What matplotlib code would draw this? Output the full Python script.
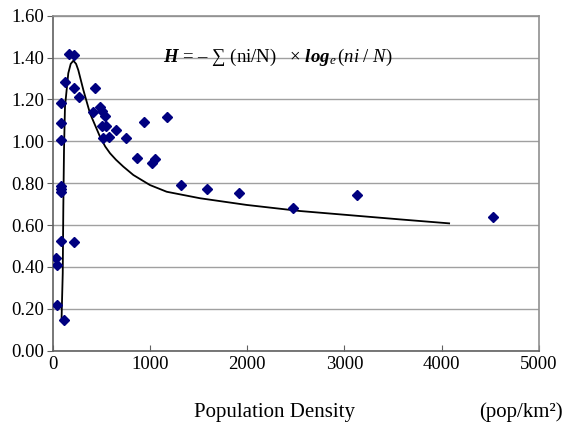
import matplotlib
matplotlib.use("Agg")
import matplotlib.pyplot as plt

plt.rcParams['font.family'] = ['Liberation Serif', 'DejaVu Serif']
plt.rcParams['mathtext.fontset'] = 'custom'
plt.rcParams['mathtext.rm'] = 'Liberation Serif'
plt.rcParams['mathtext.it'] = 'Liberation Serif:italic'
plt.rcParams['mathtext.bf'] = 'Liberation Serif:bold'
plt.rcParams['mathtext.bfit'] = 'Liberation Serif:bold:italic'

# scatter data (population density, diversity index H)
density = [171, 222, 130, 222, 274, 438, 85, 85, 85, 418, 486, 503, 538, 503, 545,
           520, 579, 651, 753, 938, 1172, 870, 1021, 1055, 1322, 1589, 1915, 85, 85,
           85, 85, 222, 34, 47, 47, 119, 2473, 3124, 4522]
diversity = [1.417, 1.411, 1.285, 1.253, 1.213, 1.253, 1.184, 1.089, 1.006, 1.141,
             1.162, 1.146, 1.121, 1.075, 1.075, 1.017, 1.022, 1.054, 1.014, 1.091,
             1.115, 0.922, 0.898, 0.914, 0.790, 0.772, 0.752, 0.788, 0.772, 0.756,
             0.525, 0.519, 0.441, 0.409, 0.217, 0.145, 0.680, 0.742, 0.640]

# fitted curve
curve_x = [91, 103, 109, 116, 126, 160, 185, 212, 240, 263, 315, 383, 486, 540, 589,
           650, 726, 829, 1000, 1172, 1514, 1994, 2542, 3569, 4076]
curve_y = [0.155, 0.37, 0.688, 0.958, 1.165, 1.325, 1.37, 1.385, 1.37, 1.34, 1.245,
           1.134, 1.022, 0.975, 0.943, 0.912, 0.879, 0.839, 0.791, 0.759, 0.728,
           0.696, 0.667, 0.627, 0.608]

xticks = [0, 1000, 2000, 3000, 4000, 5000]
yticks = [0.0, 0.2, 0.4, 0.6, 0.8, 1.0, 1.2, 1.4, 1.6]

fig = plt.figure(figsize=(5.7, 4.24), dpi=100)
ax = fig.add_axes([0.0925, 0.173, 0.9456 - 0.0925, 0.963 - 0.173])

ax.set_xlim(0, 5000)
ax.set_ylim(0, 1.6)
ax.set_xticks(xticks)
ax.set_yticks(yticks)
ax.set_yticklabels([f"{v:.2f}" for v in yticks])
ax.grid(axis='y', color='#a0a0a0', linewidth=1.0)
ax.set_axisbelow(True)

ax.plot(curve_x, curve_y, color='black', linewidth=1.3, zorder=2)
ax.plot(density, diversity, linestyle='none', marker='D', markersize=5,
        color='#000080', zorder=3)

for s in ['left', 'bottom']:
    ax.spines[s].set_color('#606060')
    ax.spines[s].set_linewidth(1.2)
for s in ['top', 'right']:
    ax.spines[s].set_color('#909090')
    ax.spines[s].set_linewidth(1.2)

ax.tick_params(axis='both', labelsize=13.5, colors='black')
ax.tick_params(axis='y', direction='out', length=4, color='#606060', pad=2)
ax.tick_params(axis='x', direction='in', length=4, color='#606060', pad=4)

ax.text(1134, 1.40,
        r'$\mathbfit{H}$ = – ∑ (ni/N)   × $\mathbfit{log}_{\mathit{e}}\,\mathit{(ni\ /\ N)}$',
        fontsize=13.5, ha='left', va='center')

fig.text(274 / 570, 1 - 412 / 424, 'Population Density', fontsize=15,
         ha='center', va='center')
fig.text(521 / 570, 1 - 412 / 424, '(pop/km²)', fontsize=15,
         ha='center', va='center')

fig.savefig('out.png', dpi=100)
